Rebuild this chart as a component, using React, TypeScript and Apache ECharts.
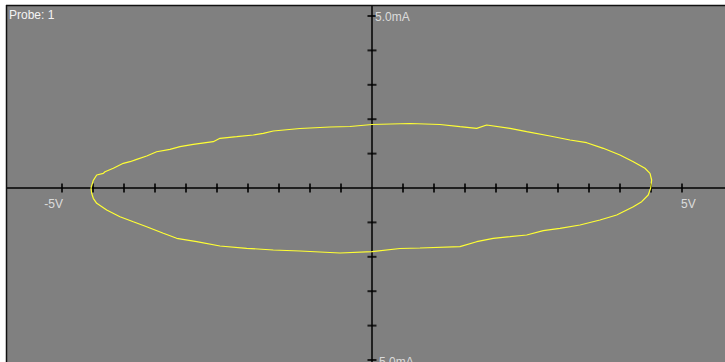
import React, { useEffect, useRef } from "react";
import * as echarts from "echarts";

// Trace of the probe (V on x, mA on y), going round the loop
const traceVolts = [
  -4.532, -4.495, -4.44, -4.334, -4.306, -4.172, -4.011, -3.903, -3.795, -3.634,
  -3.473, -3.258, -3.097, -2.882, -2.56, -2.452, -2.182, -1.915, -1.753, -1.592,
  -1.161, -0.677, -0.355, 0, 0.613, 1.097, 1.419, 1.689, 1.85, 2.226,
  2.495, 2.871, 3.194, 3.463, 3.731, 4.0, 4.215, 4.403, 4.484, 4.511,
  4.495, 4.456, 4.35, 4.215, 3.947, 3.677, 3.355, 3.032, 2.763, 2.495,
  2.226, 1.956, 1.689, 1.419, 0.774, 0.452, 0, -0.516, -1.161, -1.592,
  -2.021, -2.452, -2.827, -3.15, -3.366, -3.634, -3.85, -4.065, -4.279, -4.44,
  -4.495, -4.521, -4.532,
];
const traceMilliamps = [
  0, 0.224, 0.378, 0.427, 0.474, 0.573, 0.718, 0.765, 0.834, 0.93,
  1.055, 1.125, 1.201, 1.27, 1.346, 1.445, 1.491, 1.541, 1.59, 1.657,
  1.73, 1.773, 1.788, 1.846, 1.875, 1.846, 1.782, 1.735, 1.831, 1.735,
  1.637, 1.512, 1.395, 1.317, 1.154, 0.959, 0.765, 0.573, 0.427, 0.233,
  0, -0.203, -0.398, -0.544, -0.785, -0.93, -1.076, -1.172, -1.241, -1.366,
  -1.416, -1.462, -1.561, -1.706, -1.744, -1.759, -1.852, -1.89, -1.831, -1.802,
  -1.753, -1.686, -1.561, -1.462, -1.317, -1.125, -0.98, -0.834, -0.64, -0.445,
  -0.299, -0.154, 0,
];

const xTickVolts = [
  -5, -4.5, -4, -3.5, -3, -2.5, -2, -1.5, -1, -0.5,
  0.5, 1, 1.5, 2, 2.5, 3, 3.5, 4, 4.5, 5,
];
const yTickMilliamps = [-5, -4, -3, -2, -1, 1, 2, 3, 4, 5];

const xEndVolts = [-5, 5];
const xEndLabels = ["-5V", "5V"];
const yEndMilliamps = [5, -5];
const yEndLabels = ["5.0mA", "-5.0mA"];
const probeTitle = "Probe: 1";

export default function App() {
  const ref = useRef<HTMLDivElement>(null);

  useEffect(() => {
    if (!ref.current) return;
    const chart = echarts.init(ref.current, undefined, { renderer: "svg" });
    const font = "'Liberation Sans', Arial, sans-serif";
    const textColor = "#f4f4f4";

    const endLabelData = [
      ...xEndVolts.map((v, i) => ({
        value: [v, 0],
        label: {
          formatter: xEndLabels[i],
          position: v < 0 ? [1, 16] : [-1, 16],
          align: v < 0 ? "right" : "left",
          verticalAlign: "middle",
        },
      })),
      ...yEndMilliamps.map((m, i) => ({
        value: [0, m],
        label: {
          formatter: yEndLabels[i],
          position: m > 0 ? [3, 1] : [3, 2],
          align: "left",
          verticalAlign: "middle",
        },
      })),
    ];

    chart.setOption({
      animation: false,
      backgroundColor: "#ffffff",
      title: {
        text: probeTitle,
        left: 9,
        top: 9,
        padding: 0,
        textStyle: {
          color: textColor,
          fontSize: 12,
          fontWeight: "normal",
          fontFamily: font,
        },
      },
      grid: {
        left: 7,
        top: 6,
        width: 718,
        height: 356,
        show: true,
        backgroundColor: "#808080",
        borderWidth: 0,
      },
      xAxis: {
        type: "value",
        min: -5.887,
        max: 5.694,
        axisLine: { show: true, onZero: true, lineStyle: { color: "#000", width: 1.5 } },
        axisTick: { show: false },
        axisLabel: { show: false },
        splitLine: { show: false },
      },
      yAxis: {
        type: "value",
        min: -5.058,
        max: 5.291,
        axisLine: { show: true, onZero: true, lineStyle: { color: "#000", width: 1.5 } },
        axisTick: { show: false },
        axisLabel: { show: false },
        splitLine: { show: false },
      },
      graphic: [
        {
          type: "line",
          shape: { x1: 6, y1: 5.5, x2: 725, y2: 5.5 },
          style: { stroke: "#111", lineWidth: 1.5 },
          z: 100,
        },
        {
          type: "line",
          shape: { x1: 6.5, y1: 5, x2: 6.5, y2: 362 },
          style: { stroke: "#111", lineWidth: 1.5 },
          z: 100,
        },
      ],
      series: [
        {
          type: "scatter",
          silent: true,
          symbol: "rect",
          symbolSize: [2, 9],
          itemStyle: { color: "#000" },
          data: xTickVolts.map((v) => [v, 0]),
          z: 2,
        },
        {
          type: "scatter",
          silent: true,
          symbol: "rect",
          symbolSize: [9, 2],
          itemStyle: { color: "#000" },
          data: yTickMilliamps.map((m) => [0, m]),
          z: 2,
        },
        {
          type: "line",
          silent: true,
          showSymbol: false,
          symbol: "none",
          data: traceVolts.map((v, i) => [v, traceMilliamps[i]]),
          lineStyle: { color: "#ffff33", width: 1.2 },
          z: 3,
        },
        {
          type: "scatter",
          silent: true,
          symbolSize: 0,
          itemStyle: { color: "transparent" },
          label: {
            show: true,
            color: textColor,
            fontSize: 12,
            fontFamily: font,
          },
          data: endLabelData,
          z: 4,
        },
      ],
    });

    return () => chart.dispose();
  }, []);

  return (
    <div
      ref={ref}
      style={{ position: "absolute", left: 0, top: 0, width: 725, height: 362 }}
    />
  );
}
